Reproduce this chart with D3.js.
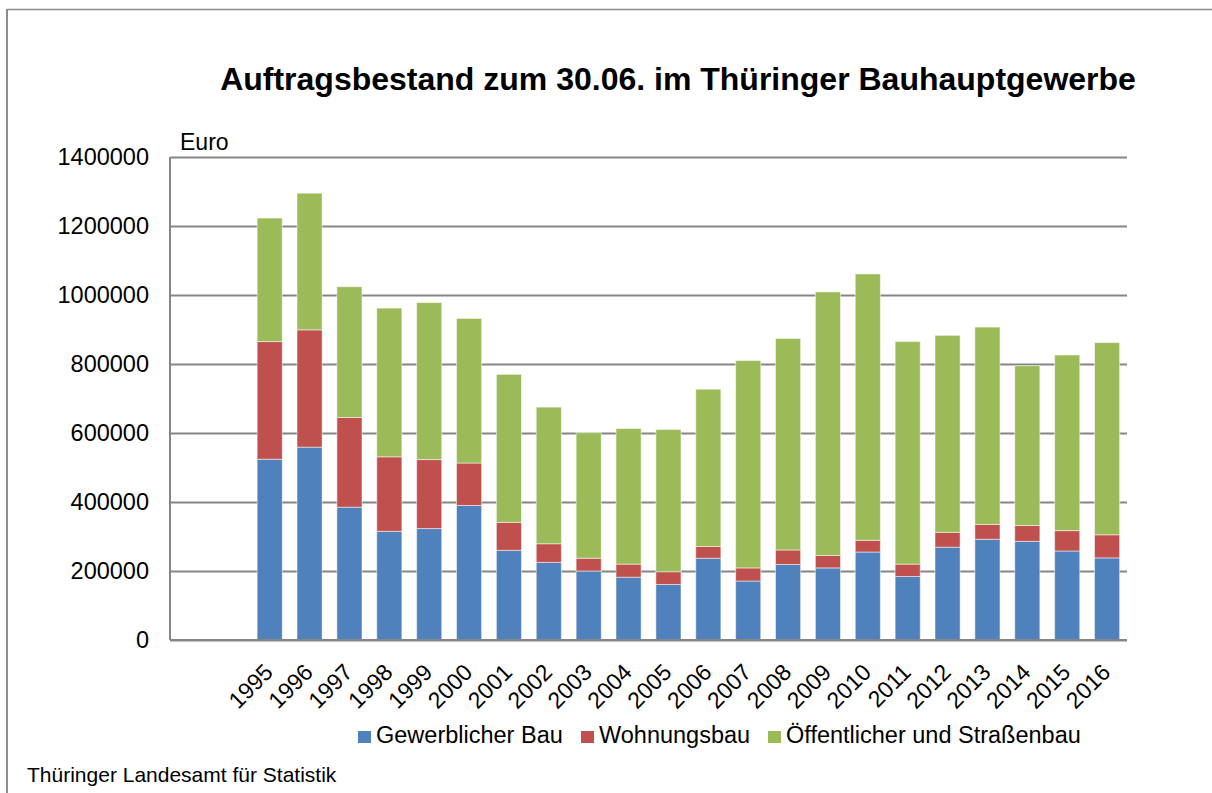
<!DOCTYPE html>
<html>
<head>
<meta charset="utf-8">
<script src="https://cdn.jsdelivr.net/npm/d3@7"></script>
<style>
  body { margin: 0; background: #fff; }
  svg { display: block; font-family: "Liberation Sans", Arial, sans-serif; }
</style>
</head>
<body>
<svg></svg>
<script>
// data (Euro)
let years = ['1995', '1996', '1997', '1998', '1999', '2000', '2001', '2002', '2003', '2004', '2005',
             '2006', '2007', '2008', '2009', '2010', '2011', '2012', '2013', '2014', '2015', '2016']
let gewerblich = [524000, 559000, 385000, 315000, 323000, 390000, 260000, 225000, 200000, 182000, 161000,
                  237000, 171000, 219000, 209000, 255000, 184000, 269000, 292000, 286000, 258000, 238000]
let wohnungsbau = [341000, 340000, 260000, 216000, 200000, 123000, 81000, 54000, 37000, 38000, 37000,
                   34000, 38000, 42000, 36000, 34000, 36000, 43000, 43000, 46000, 59000, 67000]
let oeffentlich = [358000, 396000, 379000, 431000, 455000, 419000, 429000, 396000, 364000, 393000, 412000,
                   456000, 601000, 613000, 764000, 772000, 645000, 571000, 572000, 463000, 509000, 557000]
let seriesNames = ['Gewerblicher Bau', 'Wohnungsbau', 'Öffentlicher und Straßenbau']
let colors = ['#4f81bd', '#c0504d', '#9bbb59']
let yTicks = [0, 200000, 400000, 600000, 800000, 1000000, 1200000, 1400000]
// two empty category slots sit before 1995 in the original
let emptySlots = ['_a', '_b']

let width = 1212
let height = 793
let plotLeft = 170
let plotRight = 1127
let plotTop = 157
let plotBottom = 640

let svg = d3.select('svg').attr('width', width).attr('height', height)

let rows = years.map((y, i) => ({ year: y, g: gewerblich[i], w: wohnungsbau[i], o: oeffentlich[i] }))
let stack = d3.stack().keys(['g', 'w', 'o'])(rows)

let xScale = d3.scaleBand()
               .domain(emptySlots.concat(years))
               .range([plotLeft, plotRight])
               .paddingInner(0.37)
               .paddingOuter(0.185)

let yScale = d3.scaleLinear()
               .domain([0, 1400000])
               .range([plotBottom, plotTop])

// frame (only top and left visible in the original)
svg.append('line').attr('x1', 7).attr('x2', width).attr('y1', 9.5).attr('y2', 9.5)
   .attr('stroke', '#8c8c8c').attr('stroke-width', 1.5)
svg.append('line').attr('x1', 7).attr('x2', 7).attr('y1', 9).attr('y2', height)
   .attr('stroke', '#8c8c8c').attr('stroke-width', 2)

// title
svg.append('text')
   .attr('x', 678).attr('y', 90)
   .attr('text-anchor', 'middle')
   .attr('font-size', 32).attr('font-weight', 'bold')
   .text('Auftragsbestand zum 30.06. im Thüringer Bauhauptgewerbe')

// grid + y axis
let yAxis = d3.axisLeft(yScale)
              .tickValues(yTicks)
              .tickSize(-(plotRight - plotLeft))
              .tickPadding(21)
              .tickFormat(d3.format('d'))

let gy = svg.append('g')
            .attr('transform', 'translate(' + plotLeft + ', 0)')
            .call(yAxis)
gy.select('.domain').remove()
gy.selectAll('.tick line').attr('stroke', '#868686').attr('stroke-width', 2)
gy.selectAll('.tick text').attr('font-size', 23.5).attr('fill', '#000')
  .attr('font-family', '"Liberation Sans", Arial, sans-serif')

svg.append('line').attr('x1', plotLeft).attr('x2', plotLeft).attr('y1', plotTop).attr('y2', plotBottom)
   .attr('stroke', '#868686').attr('stroke-width', 2)

svg.append('text').attr('x', 180).attr('y', 150).attr('font-size', 23).text('Euro')

// bars
svg.append('g').selectAll('g')
   .data(stack)
   .enter()
   .append('g')
   .attr('fill', (d, i) => colors[i])
   .selectAll('rect')
   .data(d => d)
   .enter()
   .append('rect')
   .attr('x', d => xScale(d.data.year))
   .attr('width', xScale.bandwidth())
   .attr('y', d => yScale(d[1]))
   .attr('height', d => yScale(d[0]) - yScale(d[1]))
   .attr('stroke', '#fff')
   .attr('stroke-opacity', 0.5)
   .attr('stroke-width', 1)

// x axis
svg.append('line').attr('x1', plotLeft).attr('x2', plotRight).attr('y1', plotBottom).attr('y2', plotBottom)
   .attr('stroke', '#868686').attr('stroke-width', 2)

svg.append('g').selectAll('text')
   .data(years)
   .enter()
   .append('text')
   .attr('transform', d => 'translate(' + (xScale(d) + xScale.bandwidth() / 2 - 7) + ', 662) rotate(-45)')
   .attr('text-anchor', 'end')
   .attr('dy', '0.72em')
   .attr('font-size', 23)
   .text(d => d)

// legend
let legendX = [358, 581, 768]
let legend = svg.append('g').selectAll('g')
                .data(seriesNames)
                .enter()
                .append('g')
                .attr('transform', (d, i) => 'translate(' + legendX[i] + ', 743)')
legend.append('rect').attr('x', 0).attr('y', -12).attr('width', 13).attr('height', 12)
      .attr('fill', (d, i) => colors[i])
legend.append('text').attr('x', 18).attr('y', 0).attr('font-size', 23.5).text(d => d)

// source
svg.append('text').attr('x', 27).attr('y', 782).attr('font-size', 21)
   .text('Thüringer Landesamt für Statistik')
</script>
</body>
</html>
